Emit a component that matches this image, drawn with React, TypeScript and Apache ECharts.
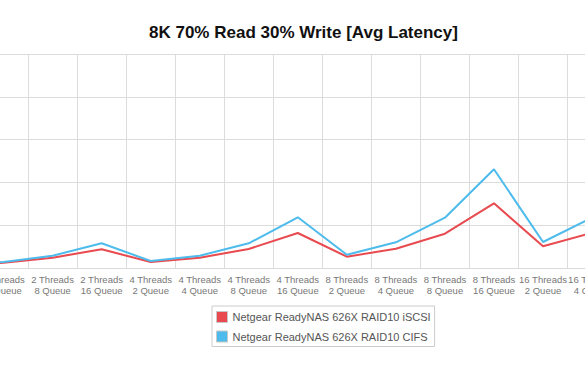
import React, { useEffect, useRef } from "react";
import * as echarts from "echarts";

const threads = ["2 Threads", "2 Threads", "2 Threads", "2 Threads", "4 Threads", "4 Threads", "4 Threads", "4 Threads", "8 Threads", "8 Threads", "8 Threads", "8 Threads", "16 Threads", "16 Threads"];
const queues = ["2 Queue", "4 Queue", "8 Queue", "16 Queue", "2 Queue", "4 Queue", "8 Queue", "16 Queue", "2 Queue", "4 Queue", "8 Queue", "16 Queue", "2 Queue", "4 Queue"];
const categories = threads.map((t, i) => t + "\n" + queues[i]);

const iscsi = [0.65, 1.24, 2.41, 4.37, 1.4, 2.41, 4.44, 8.18, 2.64, 4.51, 8.01, 15.12, 5.07, 8.22];
const cifs = [0.7, 1.4, 2.87, 5.77, 1.64, 2.87, 5.77, 11.85, 3.11, 6.0, 11.75, 23.06, 6.07, 11.75];

const seriesNames = ["Netgear ReadyNAS 626X RAID10 iSCSI", "Netgear ReadyNAS 626X RAID10 CIFS"];
const colors = ["#e84a4f", "#4dbbeb"];

const OFFSET_LEFT = 70;
const OFFSET_RIGHT = 34;

export default function App() {
  const ref = useRef<HTMLDivElement>(null);
  useEffect(() => {
    const chart = echarts.init(ref.current!, null, { renderer: "svg" });
    const font = "'Liberation Sans', Arial, Helvetica, sans-serif";
    chart.setOption({
      animation: false,
      textStyle: { fontFamily: font },
      title: {
        text: "8K 70% Read 30% Write [Avg Latency]",
        left: 144 + OFFSET_LEFT,
        top: 19,
        textStyle: { fontSize: 17, fontWeight: "bold", color: "#111", fontFamily: font },
      },
      legend: {
        orient: "vertical",
        left: 212 + OFFSET_LEFT,
        top: 306,
        padding: [5, 4, 4, 4],
        borderColor: "#cccccc",
        borderWidth: 1,
        itemWidth: 11,
        itemHeight: 11,
        itemGap: 7.5,
        icon: "rect",
        itemStyle: { borderColor: "#c8c8c8", borderWidth: 1 },
        textStyle: { fontSize: 11, color: "#555", fontFamily: font },
        data: seriesNames,
      },
      grid: { left: 0, right: 0, top: 54, bottom: 104, containLabel: false },
      xAxis: {
        type: "category",
        data: categories,
        boundaryGap: true,
        axisLine: { show: true, lineStyle: { color: "#d9d9d9", width: 1 } },
        axisTick: { show: false },
        splitLine: { show: true, lineStyle: { color: "#dcdcdc", width: 1 } },
        axisLabel: { interval: 0, color: "#777", fontSize: 9.5, lineHeight: 11, margin: 6, fontFamily: font },
      },
      yAxis: {
        type: "value",
        min: 0,
        max: 50,
        interval: 10,
        axisLabel: { show: false },
        axisLine: { show: false },
        axisTick: { show: false },
        splitLine: { show: true, lineStyle: { color: "#dcdcdc", width: 1 } },
      },
      series: [
        {
          name: seriesNames[0],
          type: "line",
          data: iscsi,
          color: colors[0],
          symbol: "none",
          lineStyle: { width: 2, color: colors[0] },
        },
        {
          name: seriesNames[1],
          type: "line",
          data: cifs,
          color: colors[1],
          symbol: "none",
          lineStyle: { width: 2, color: colors[1] },
        },
      ],
    });
    return () => chart.dispose();
  }, []);
  return (
    <div style={{ position: "absolute", left: 0, top: 0, width: 585, height: 372, overflow: "hidden", background: "#fff" }}>
      <div
        ref={ref}
        style={{ position: "absolute", left: -OFFSET_LEFT, top: 0, width: 585 + OFFSET_LEFT + OFFSET_RIGHT, height: 372 }}
      />
    </div>
  );
}
